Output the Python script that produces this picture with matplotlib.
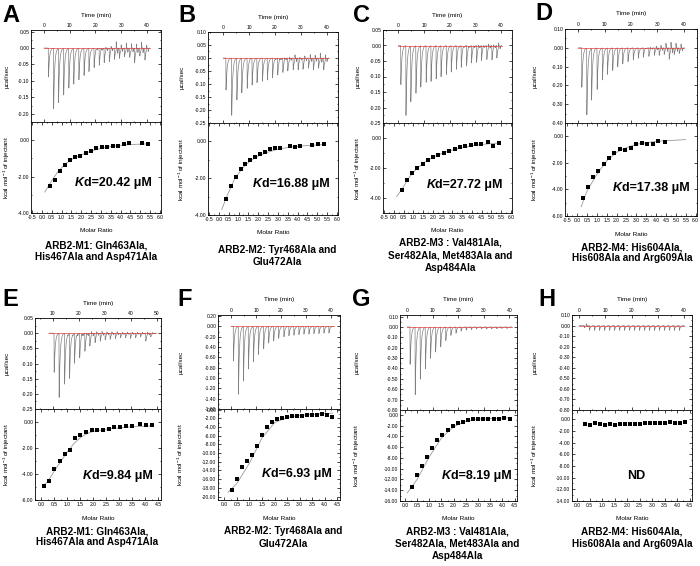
import numpy as np
import matplotlib
matplotlib.use('Agg')
import matplotlib.pyplot as plt
from matplotlib.ticker import MultipleLocator, FuncFormatter

plt.rcParams['font.family'] = ['Liberation Sans', 'DejaVu Sans']
plt.rcParams['axes.unicode_minus'] = False
plt.rcParams['mathtext.default'] = 'regular'

# ---------------- data ----------------
# Panel A
A_inj = [1.7, 3.7, 5.6, 7.6, 9.6, 11.5, 13.5, 15.5, 17.4, 19.4, 21.4, 23.3, 25.3, 27.3, 29.2, 31.2, 33.2, 35.1, 37.1, 39.1]
A_peak = [-0.088, -0.184, -0.165, -0.142, -0.121, -0.109, -0.096, -0.083, -0.071, -0.059, -0.052, -0.044, -0.041, -0.034, -0.031, -0.026, -0.028, -0.045, -0.024, -0.036]
A_up = [0, 0, 0, 0, 0, 0, 0, 0, 0, 0.005, 0.008, 0.01, 0.012, 0.025, 0.015, 0.02, 0.018, 0.02, 0.022, 0.015]
A_mr = [0.42, 0.67, 0.92, 1.17, 1.43, 1.68, 1.95, 2.23, 2.5, 2.77, 3.03, 3.32, 3.6, 3.88, 4.15, 4.45, 5.1, 5.38]
A_dh = [-2.49, -2.18, -1.67, -1.35, -1.1, -0.95, -0.85, -0.7, -0.58, -0.45, -0.4, -0.35, -0.33, -0.3, -0.2, -0.18, -0.16, -0.22]
A_fit_x = [0.15, 0.4, 0.8, 1.2, 1.6, 2.0, 2.5, 3.0, 3.5, 4.0, 4.5, 5.4]
A_fit_y = [-2.85, -2.4, -1.75, -1.3, -1.0, -0.8, -0.6, -0.45, -0.35, -0.28, -0.24, -0.2]

# Panel B
B_inj = [1.0, 3.2, 5.2, 7.1, 9.2, 11.1, 13.0, 15.1, 17.0, 19.0, 21.0, 23.0, 24.9, 27.0, 28.9, 30.8, 32.9, 34.8, 36.8, 38.8]
B_peak = [-0.123, -0.22, -0.16, -0.133, -0.116, -0.103, -0.094, -0.089, -0.084, -0.075, -0.065, -0.055, -0.049, -0.045, -0.045, -0.043, -0.039, -0.045, -0.039, -0.045]
B_up = [0, 0, 0, 0, 0, 0, 0, 0, 0, 0.005, 0.008, 0.01, 0.012, 0.02, 0.01, 0.015, 0.02, 0.018, 0.025, 0.02]
B_mr = [0.35, 0.6, 0.85, 1.1, 1.35, 1.6, 1.85, 2.1, 2.35, 2.6, 2.85, 3.1, 3.6, 3.85, 4.1, 4.75, 5.05, 5.35]
B_dh = [-3.13, -2.42, -1.95, -1.51, -1.25, -1.02, -0.85, -0.71, -0.56, -0.44, -0.38, -0.36, -0.24, -0.29, -0.25, -0.2, -0.16, -0.15]
B_fit_x = [0.15, 0.4, 0.8, 1.2, 1.6, 2.0, 2.5, 3.0, 3.5, 4.0, 4.5, 5.4]
B_fit_y = [-3.7, -3.0, -2.05, -1.45, -1.05, -0.8, -0.58, -0.43, -0.33, -0.27, -0.22, -0.17]

# Panel C
C_inj = [0.9, 2.9, 4.8, 6.8, 8.7, 10.8, 12.7, 14.7, 16.6, 18.7, 20.6, 22.6, 24.5, 26.6, 28.5, 30.5, 32.4, 34.5, 36.5, 38.4]
C_peak = [-0.126, -0.225, -0.18, -0.153, -0.133, -0.118, -0.115, -0.107, -0.1, -0.093, -0.085, -0.076, -0.07, -0.065, -0.056, -0.054, -0.048, -0.045, -0.046, -0.04]
C_up = [0, 0, 0, 0, 0, 0, 0, 0, 0, 0, 0, 0.004, 0.005, 0.006, 0.008, 0.01, 0.008, 0.012, 0.01, 0.015]
C_mr = [0.43, 0.69, 0.94, 1.21, 1.49, 1.74, 2.01, 2.28, 2.56, 2.84, 3.12, 3.39, 3.66, 3.93, 4.2, 4.47, 4.81, 5.1, 5.41]
C_dh = [-3.48, -2.78, -2.33, -2.0, -1.72, -1.46, -1.28, -1.15, -1.0, -0.85, -0.7, -0.61, -0.52, -0.48, -0.43, -0.43, -0.26, -0.52, -0.33]
C_fit_x = [0.15, 0.4, 0.8, 1.2, 1.6, 2.0, 2.5, 3.0, 3.5, 4.0, 4.5, 5.4]
C_fit_y = [-3.9, -3.45, -2.6, -2.0, -1.6, -1.28, -1.0, -0.8, -0.65, -0.52, -0.43, -0.33]

# Panel D
D_inj = [1.3, 3.2, 5.0, 7.1, 9.1, 11.0, 13.0, 14.9, 16.8, 18.8, 20.8, 22.7, 24.6, 26.7, 28.8, 30.6, 32.5, 34.4, 36.3, 38.2]
D_peak = [-0.21, -0.355, -0.275, -0.22, -0.17, -0.14, -0.12, -0.1, -0.085, -0.073, -0.064, -0.055, -0.05, -0.045, -0.04, -0.04, -0.035, -0.06, -0.035, -0.03]
D_up = [0, 0, 0, 0, 0, 0, 0, 0, 0, 0, 0, 0, 0.005, 0.01, 0.015, 0.02, 0.03, 0.04, 0.03, 0.025]
D_mr = [0.27, 0.53, 0.8, 1.07, 1.34, 1.62, 1.87, 2.16, 2.43, 2.7, 2.99, 3.27, 3.54, 3.83, 4.1, 4.46]
D_dh = [-4.63, -3.85, -3.05, -2.58, -2.1, -1.63, -1.23, -0.93, -1.05, -0.9, -0.6, -0.48, -0.58, -0.55, -0.33, -0.4]
D_fit_x = [0.2, 0.5, 1.0, 1.5, 2.0, 2.5, 3.0, 4.0, 5.5]
D_fit_y = [-5.3, -4.1, -2.85, -1.85, -1.2, -0.85, -0.6, -0.38, -0.25]

# Panel E
E_inj = [10.5, 12.4, 14.5, 16.4, 18.3, 20.3, 22.3, 24.2, 26.2, 28.2, 30.1, 32.0, 34.0, 36.0, 37.9, 39.8, 41.8, 43.7, 45.7, 47.6]
E_peak = [-0.129, -0.211, -0.167, -0.148, -0.098, -0.081, -0.059, -0.042, -0.031, -0.026, -0.022, -0.02, -0.018, -0.015, -0.015, -0.017, -0.015, -0.012, -0.026, -0.012]
E_up = [0, 0, 0.005, 0.005, 0.008, 0.01, 0.01, 0.012, 0.01, 0.01, 0.008, 0.008, 0.008, 0.006, 0.006, 0.006, 0.005, 0.005, 0.008, 0.004]
E_mr = [0.1, 0.3, 0.5, 0.7, 0.9, 1.1, 1.3, 1.5, 1.72, 1.93, 2.15, 2.37, 2.59, 2.8, 3.03, 3.25, 3.5, 3.8, 4.02, 4.27]
E_dh = [-4.9, -4.55, -3.62, -2.98, -2.44, -2.16, -1.21, -1.0, -0.77, -0.64, -0.64, -0.59, -0.51, -0.39, -0.41, -0.33, -0.31, -0.15, -0.22, -0.22]
E_fit_x = [0.1, 0.3, 0.5, 0.75, 1.0, 1.25, 1.5, 1.75, 2.0, 2.5, 3.0, 3.5, 4.3]
E_fit_y = [-4.9, -4.4, -3.75, -3.0, -2.3, -1.65, -1.2, -0.9, -0.72, -0.55, -0.45, -0.37, -0.3]

# Panel F
F_inj = [0.9, 2.9, 4.9, 6.9, 8.9, 10.9, 13.0, 15.0, 17.0, 19.0, 21.1, 23.1, 25.1, 27.1, 29.1, 31.1, 33.1, 35.1, 37.1, 39.1]
F_peak = [-0.67, -1.31, -1.05, -0.82, -0.68, -0.54, -0.43, -0.32, -0.28, -0.23, -0.2, -0.18, -0.17, -0.16, -0.15, -0.15, -0.14, -0.14, -0.13, -0.13]
F_up = [0] * 20
F_mr = [0.3, 0.5, 0.7, 0.9, 1.1, 1.3, 1.5, 1.7, 1.9, 2.1, 2.3, 2.5, 2.7, 2.9, 3.1, 3.3, 3.5, 3.7, 3.9, 4.1, 4.3]
F_dh = [-18.6, -15.9, -13.3, -11.8, -10.4, -8.4, -5.9, -4.0, -2.8, -2.2, -1.9, -1.6, -1.5, -1.4, -1.5, -1.2, -1.2, -1.2, -1.1, -1.2, -1.6]
F_fit_x = [0.15, 0.5, 1.0, 1.5, 2.0, 2.5, 3.0, 4.3]
F_fit_y = [-19.0, -17.0, -12.3, -6.5, -3.0, -1.8, -1.3, -0.8]

# Panel G
G_inj = [1.0, 3.0, 5.0, 7.0, 9.0, 11.0, 13.0, 15.0, 17.0, 19.0, 21.0, 23.0, 25.0, 27.0, 29.0, 31.0, 33.0, 35.0, 37.0, 39.0]
G_peak = [-0.36, -0.65, -0.5, -0.4, -0.3, -0.24, -0.19, -0.13, -0.08, -0.06, -0.04, -0.03, -0.025, -0.02, -0.02, -0.02, -0.018, -0.018, -0.015, -0.015]
G_up = [0] * 20
G_mr = [0.28, 0.49, 0.7, 0.91, 1.12, 1.33, 1.54, 1.75, 1.96, 2.17, 2.38, 2.59, 2.8, 3.01, 3.22, 3.43, 3.64, 3.85, 4.06, 4.3]
G_dh = [-13.4, -11.25, -9.5, -7.75, -6.25, -4.75, -3.75, -2.75, -2.1, -1.45, -1.3, -0.95, -0.7, -0.7, -0.7, -0.75, -0.75, -0.7, -0.55, -0.75]
G_fit_x = [0.1, 0.5, 1.0, 1.5, 2.0, 2.5, 3.0, 4.3]
G_fit_y = [-14.5, -12.0, -7.8, -4.3, -2.2, -1.2, -0.8, -0.55]

# Panel H
H_inj = [2.0, 3.9, 5.8, 7.7, 9.6, 11.5, 13.4, 15.3, 17.2, 19.1, 21.0, 22.9, 24.8, 26.7, 28.6, 30.5, 32.4, 34.3, 36.2, 38.1]
H_peak = [-0.02, -0.045, -0.045, -0.045, -0.045, -0.045, -0.045, -0.045, -0.045, -0.045, -0.045, -0.045, -0.045, -0.045, -0.045, -0.045, -0.045, -0.045, -0.045, -0.045]
H_up = [0.02] + [0] * 19
H_mr = [0.3, 0.5, 0.7, 0.9, 1.1, 1.3, 1.5, 1.7, 1.9, 2.1, 2.3, 2.5, 2.7, 2.9, 3.1, 3.3, 3.5, 3.7, 3.9, 4.1, 4.3]
H_dh = [-0.8, -0.9, -0.7, -0.85, -0.95, -0.85, -0.9, -0.85, -0.85, -0.8, -0.8, -0.75, -0.7, -0.65, -0.65, -0.6, -0.55, -0.45, -0.55, -0.6, -0.4]

letters = ['A', 'B', 'C', 'D', 'E', 'F', 'G', 'H']
kd_texts = ['d=20.42 μM', 'd=16.88 μM', 'd=27.72 μM', 'd=17.38 μM',
            'd=9.84 μM', 'd=6.93 μM', 'd=8.19 μM', None]
captions = [
    ['ARB2-M1: Gln463Ala,', 'His467Ala and Asp471Ala'],
    ['ARB2-M2: Tyr468Ala and', 'Glu472Ala'],
    ['ARB2-M3 : Val481Ala,', 'Ser482Ala, Met483Ala and', 'Asp484Ala'],
    ['ARB2-M4: His604Ala,', 'His608Ala and Arg609Ala'],
    ['ARB2-M1: Gln463Ala,', 'His467Ala and Asp471Ala'],
    ['ARB2-M2: Tyr468Ala and', 'Glu472Ala'],
    ['ARB2-M3 : Val481Ala,', 'Ser482Ala, Met483Ala and', 'Asp484Ala'],
    ['ARB2-M4: His604Ala,', 'His608Ala and Arg609Ala'],
]

# ---------------- layout (pixels) ----------------
W, H = 700, 566
panels = [
    dict(box=(31, 161, 30, 122, 213), tx=(-5.0, 45.4), tticks=[0, 10, 20, 30, 40], ty=(-0.225, 0.055), tstep=0.05,
         by=(-4, 1), mx=(-0.55, 6.05), mstep=0.5, ylx=(7, 7),
         inj=A_inj, peak=A_peak, up=A_up, mr=A_mr, dh=A_dh, fx=A_fit_x, fy=A_fit_y,
         kd=(152, 183), cap=(96, [245, 257]), let=(2, 22), t0=0.0),
    dict(box=(208, 338, 32, 123, 215), tx=(-5.9, 44.4), tticks=[0, 10, 20, 30, 40], ty=(-0.25, 0.10), tstep=0.05,
         by=(-4, 1), mx=(-0.55, 6.05), mstep=0.5, ylx=(182, 182),
         inj=B_inj, peak=B_peak, up=B_up, mr=B_mr, dh=B_dh, fx=B_fit_x, fy=B_fit_y,
         kd=(330, 184), cap=(277, [250, 262]), let=(178, 22), t0=0.0),
    dict(box=(383, 512, 30, 123, 213), tx=(-6.0, 44.4), tticks=[0, 10, 20, 30, 40], ty=(-0.25, 0.05), tstep=0.05,
         by=(-5, 1), mx=(-0.55, 6.05), mstep=0.5, ylx=(358, 358),
         inj=C_inj, peak=C_peak, up=C_up, mr=C_mr, dh=C_dh, fx=C_fit_x, fy=C_fit_y,
         kd=(503, 185), cap=(450, [243, 256, 268]), let=(353, 22), t0=0.0),
    dict(box=(565, 697, 29, 123, 216), tx=(-5.0, 45.0), tticks=[0, 10, 20, 30, 40], ty=(-0.40, 0.10), tstep=0.10,
         by=(-6, 1), mx=(-0.62, 6.07), mstep=0.5, ylx=(535, 535),
         inj=D_inj, peak=D_peak, up=D_up, mr=D_mr, dh=D_dh, fx=D_fit_x, fy=D_fit_y,
         kd=(690, 188), cap=(632, [247, 258]), let=(535, 20), t0=0.0),
    dict(box=(35, 161, 318, 409, 500), tx=(3.2, 51.6), tticks=[10, 20, 30, 40, 50], ty=(-0.25, 0.05), tstep=0.05,
         by=(-6, 1), mx=(-0.25, 4.6), mstep=0.5, ylx=(7, 7),
         inj=E_inj, peak=E_peak, up=E_up, mr=E_mr, dh=E_dh, fx=E_fit_x, fy=E_fit_y,
         kd=(153, 476), cap=(97, [531, 542]), let=(2, 306), t0=8.5),
    dict(box=(218, 340, 315, 409, 500), tx=(-5.2, 43.6), tticks=[0, 10, 20, 30, 40], ty=(-1.6, 0.22), tstep=0.20,
         by=(-20.8, 0.15), mx=(-0.25, 4.6), mstep=0.5, ylx=(181, 181),
         inj=F_inj, peak=F_peak, up=F_up, mr=F_mr, dh=F_dh, fx=F_fit_x, fy=F_fit_y,
         kd=(332, 474), cap=(283, [531, 544]), let=(177, 306), t0=0.0),
    dict(box=(400, 517, 315, 410, 501), tx=(-2.9, 43.0), tticks=[0, 10, 20, 30, 40], ty=(-0.8, 0.115), tstep=0.10,
         by=(-16, 0.9), mx=(-0.2, 4.6), mstep=0.5, ylx=(357, 357),
         inj=G_inj, peak=G_peak, up=G_up, mr=G_mr, dh=G_dh, fx=G_fit_x, fy=G_fit_y,
         kd=(512, 476), cap=(457, [531, 544, 556]), let=(352, 306), t0=0.0),
    dict(box=(572, 692, 315, 410, 501), tx=(-2.7, 43.0), tticks=[0, 10, 20, 30, 40], ty=(-0.8, 0.1), tstep=0.10,
         by=(-14, 1.6), mx=(-0.2, 4.6), mstep=0.5, ylx=(535, 535),
         inj=H_inj, peak=H_peak, up=H_up, mr=H_mr, dh=H_dh, fx=None, fy=None,
         kd=(636, 476), cap=(632, [531, 544]), let=(538, 306), t0=0.0),
]

fig = plt.figure(figsize=(7, 5.66), dpi=100)


def fx_(x):
    return x / W


def fy_(y):
    return 1 - y / H


def fmt2(v, p):
    s = f'{v:.2f}'
    return '0.00' if s == '-0.00' else s


def fmt1(v, p):
    s = f'{v:.1f}'
    return '0.0' if s == '-0.0' else s


def pulse(t, start, rise, decay):
    tau = t - start
    return np.where(tau < 0, 0.0,
                    np.where(tau < rise, tau / rise, np.exp(-(np.maximum(tau, rise) - rise) / decay)))


def spikes(tinj, peak, up, t_start, t_end):
    t = np.arange(t_start, t_end, 0.01)
    y = np.zeros_like(t)
    for ti, d, u in zip(tinj, peak, up):
        y += d * pulse(t, ti, 0.08, 0.38)
        if u:
            y += u * pulse(t, ti + 0.7, 0.05, 0.12)
            y -= 0.6 * u * pulse(t, ti + 1.3, 0.05, 0.12)
    return t, y


TICK_FS = 3.6
LAB_FS = 4.6
tick_kw = dict(direction='in', labelsize=TICK_FS, width=0.5, pad=1.2)

for i, p in enumerate(panels):
    l, r, t, m, b = p['box']
    ax1 = fig.add_axes([fx_(l), fy_(m), (r - l) / W, (m - t) / H])
    ax2 = fig.add_axes([fx_(l), fy_(b), (r - l) / W, (b - m) / H])
    for ax in (ax1, ax2):
        for sp in ax.spines.values():
            sp.set_linewidth(0.6)

    # --- thermogram ---
    tt, yy = spikes(p['inj'], p['peak'], p['up'], p['t0'], p['inj'][-1] + 2.0)
    ax1.plot(tt, yy, color='#808080', lw=0.5)
    ax1.plot([p['t0'], p['inj'][-1] + 2.0], [0, 0], color='#e8403a', lw=0.5, zorder=3)
    ax1.set_xlim(*p['tx'])
    ax1.set_ylim(*p['ty'])
    ax1.set_xticks(p['tticks'])
    ax1.xaxis.set_minor_locator(MultipleLocator(5))
    ax1.yaxis.set_major_locator(MultipleLocator(p['tstep']))
    ax1.yaxis.set_minor_locator(MultipleLocator(p['tstep'] / 2))
    ax1.yaxis.set_major_formatter(FuncFormatter(fmt2))
    ax1.tick_params(axis='both', which='both', top=True, bottom=True, left=True, right=True,
                    labeltop=True, labelbottom=False, **tick_kw)
    ax1.tick_params(which='major', length=2)
    ax1.tick_params(which='minor', length=1)

    # --- isotherm ---
    if p['fx'] is not None:
        ax2.plot(p['fx'], p['fy'], color='#9a9a9a', lw=0.6)
    ax2.plot(p['mr'], p['dh'], 's', color='black', ms=3.0, mew=0)
    ax2.set_xlim(*p['mx'])
    ax2.set_ylim(*p['by'])
    ax2.xaxis.set_major_locator(MultipleLocator(p['mstep']))
    ax2.xaxis.set_minor_locator(MultipleLocator(p['mstep'] / 2))
    ax2.xaxis.set_major_formatter(FuncFormatter(fmt1))
    ax2.yaxis.set_major_locator(MultipleLocator(2))
    ax2.yaxis.set_minor_locator(MultipleLocator(1))
    ax2.yaxis.set_major_formatter(FuncFormatter(fmt2))
    ax2.tick_params(axis='both', which='both', top=True, bottom=True, left=True, right=True, **tick_kw)
    ax2.tick_params(which='major', length=2)
    ax2.tick_params(which='minor', length=1)

    cx = (l + r) / 2
    fig.text(fx_(cx), fy_(t - 15), 'Time (min)', ha='center', va='center', fontsize=LAB_FS)
    fig.text(fx_(cx), fy_(b + 18), 'Molar Ratio', ha='center', va='center', fontsize=LAB_FS)
    fig.text(fx_(p['ylx'][0]), fy_((t + m) / 2), 'µcal/sec', rotation=90, ha='center', va='center', fontsize=LAB_FS)
    fig.text(fx_(p['ylx'][1]), fy_((m + b) / 2), 'kcal mol$^{-1}$ of injectant', rotation=90,
             ha='center', va='center', fontsize=LAB_FS)

    # Kd / ND
    kx, ky = p['kd']
    if kd_texts[i] is not None:
        t2 = fig.text(fx_(kx), fy_(ky), kd_texts[i], ha='right', va='center', fontsize=9, fontweight='bold')
        ax2.annotate('K', xy=(0, 0.5), xycoords=t2, ha='right', va='center', fontsize=9,
                     fontweight='bold', fontstyle='italic')
    else:
        fig.text(fx_(kx), fy_(ky), 'ND', ha='center', va='center', fontsize=9, fontweight='bold')

    # caption
    ccx, ys = p['cap']
    for line, yv in zip(captions[i], ys):
        fig.text(fx_(ccx), fy_(yv), line, ha='center', va='center', fontsize=7.2, fontweight='bold')

    # panel letter
    lx, ly = p['let']
    fig.text(fx_(lx), fy_(ly), letters[i], ha='left', va='baseline', fontsize=17, fontweight='bold')

fig.savefig('out.png', dpi=100)
